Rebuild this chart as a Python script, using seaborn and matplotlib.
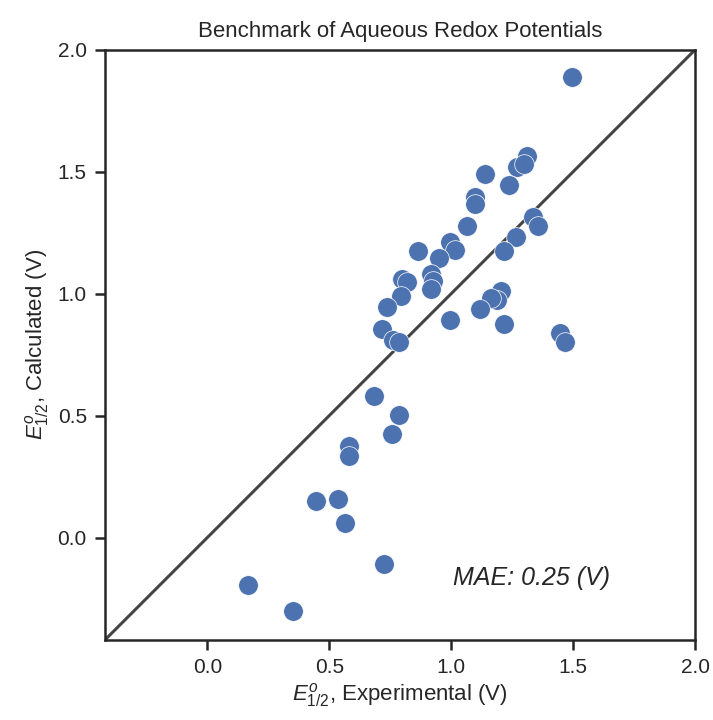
import numpy as np
import pandas as pd
import seaborn as sns
import matplotlib.pyplot as plt

# experimental vs calculated half-wave potentials (V)
experimental = [1.495, 1.310, 1.270, 1.298, 1.137, 1.236, 1.096, 1.096, 1.064,
                1.335, 1.355, 1.265, 0.994, 1.014, 0.862, 1.216, 0.949, 0.916,
                0.924, 0.916, 0.800, 0.820, 0.793, 0.735, 1.203, 1.187, 1.162,
                1.117, 0.994, 1.216, 1.446, 1.466, 0.715, 0.760, 0.785, 0.682,
                0.784, 0.756, 0.583, 0.583, 0.444, 0.534, 0.563, 0.723, 0.168,
                0.353]
calculated = [1.889, 1.566, 1.520, 1.530, 1.492, 1.447, 1.398, 1.369, 1.279,
              1.316, 1.279, 1.234, 1.213, 1.180, 1.176, 1.176, 1.148, 1.082,
              1.053, 1.020, 1.058, 1.048, 0.992, 0.947, 1.012, 0.975, 0.984,
              0.938, 0.893, 0.877, 0.840, 0.803, 0.857, 0.811, 0.803, 0.582,
              0.504, 0.426, 0.377, 0.336, 0.152, 0.160, 0.061, -0.107, -0.193,
              -0.299]
mae_label = "MAE: 0.25 (V)"
lims = [-0.42, 2.0]

df = pd.DataFrame({"exp": experimental, "calc": calculated})

sns.set_theme(style="ticks")
plt.rcParams["font.family"] = ["Liberation Sans", "DejaVu Sans"]
plt.rcParams["mathtext.fontset"] = "custom"
plt.rcParams["mathtext.rm"] = "Liberation Sans"
plt.rcParams["mathtext.it"] = "Liberation Sans:italic"

fig, ax = plt.subplots(figsize=(7.13, 7.2), dpi=100)
fig.subplots_adjust(left=0.147, right=0.975, top=0.931, bottom=0.111)

ax.plot(lims, lims, color="#444444", lw=2.2, zorder=1)
sns.scatterplot(data=df, x="exp", y="calc", s=200, color="#4C72B0",
                edgecolor="white", linewidth=0.5, ax=ax, zorder=2)

ax.set_xlim(lims)
ax.set_ylim(lims)
ax.set_xticks([0.0, 0.5, 1.0, 1.5, 2.0])
ax.set_yticks([0.0, 0.5, 1.0, 1.5, 2.0])
for s in ax.spines.values():
    s.set_linewidth(1.8)
    s.set_color("#262626")
ax.tick_params(width=1.8, length=7, labelsize=15, pad=6)

ax.set_xlabel(r"$E^{o}_{1/2}$, Experimental (V)", fontsize=16, labelpad=3)
ax.set_ylabel(r"$E^{o}_{1/2}$, Calculated (V)", fontsize=16, labelpad=5)
ax.set_title("Benchmark of Aqueous Redox Potentials", fontsize=16, pad=9)
ax.text(1.33, -0.165, mae_label, fontsize=18, style="italic",
        ha="center", va="center", color="#262626")

fig.savefig("out.png", dpi=100)
